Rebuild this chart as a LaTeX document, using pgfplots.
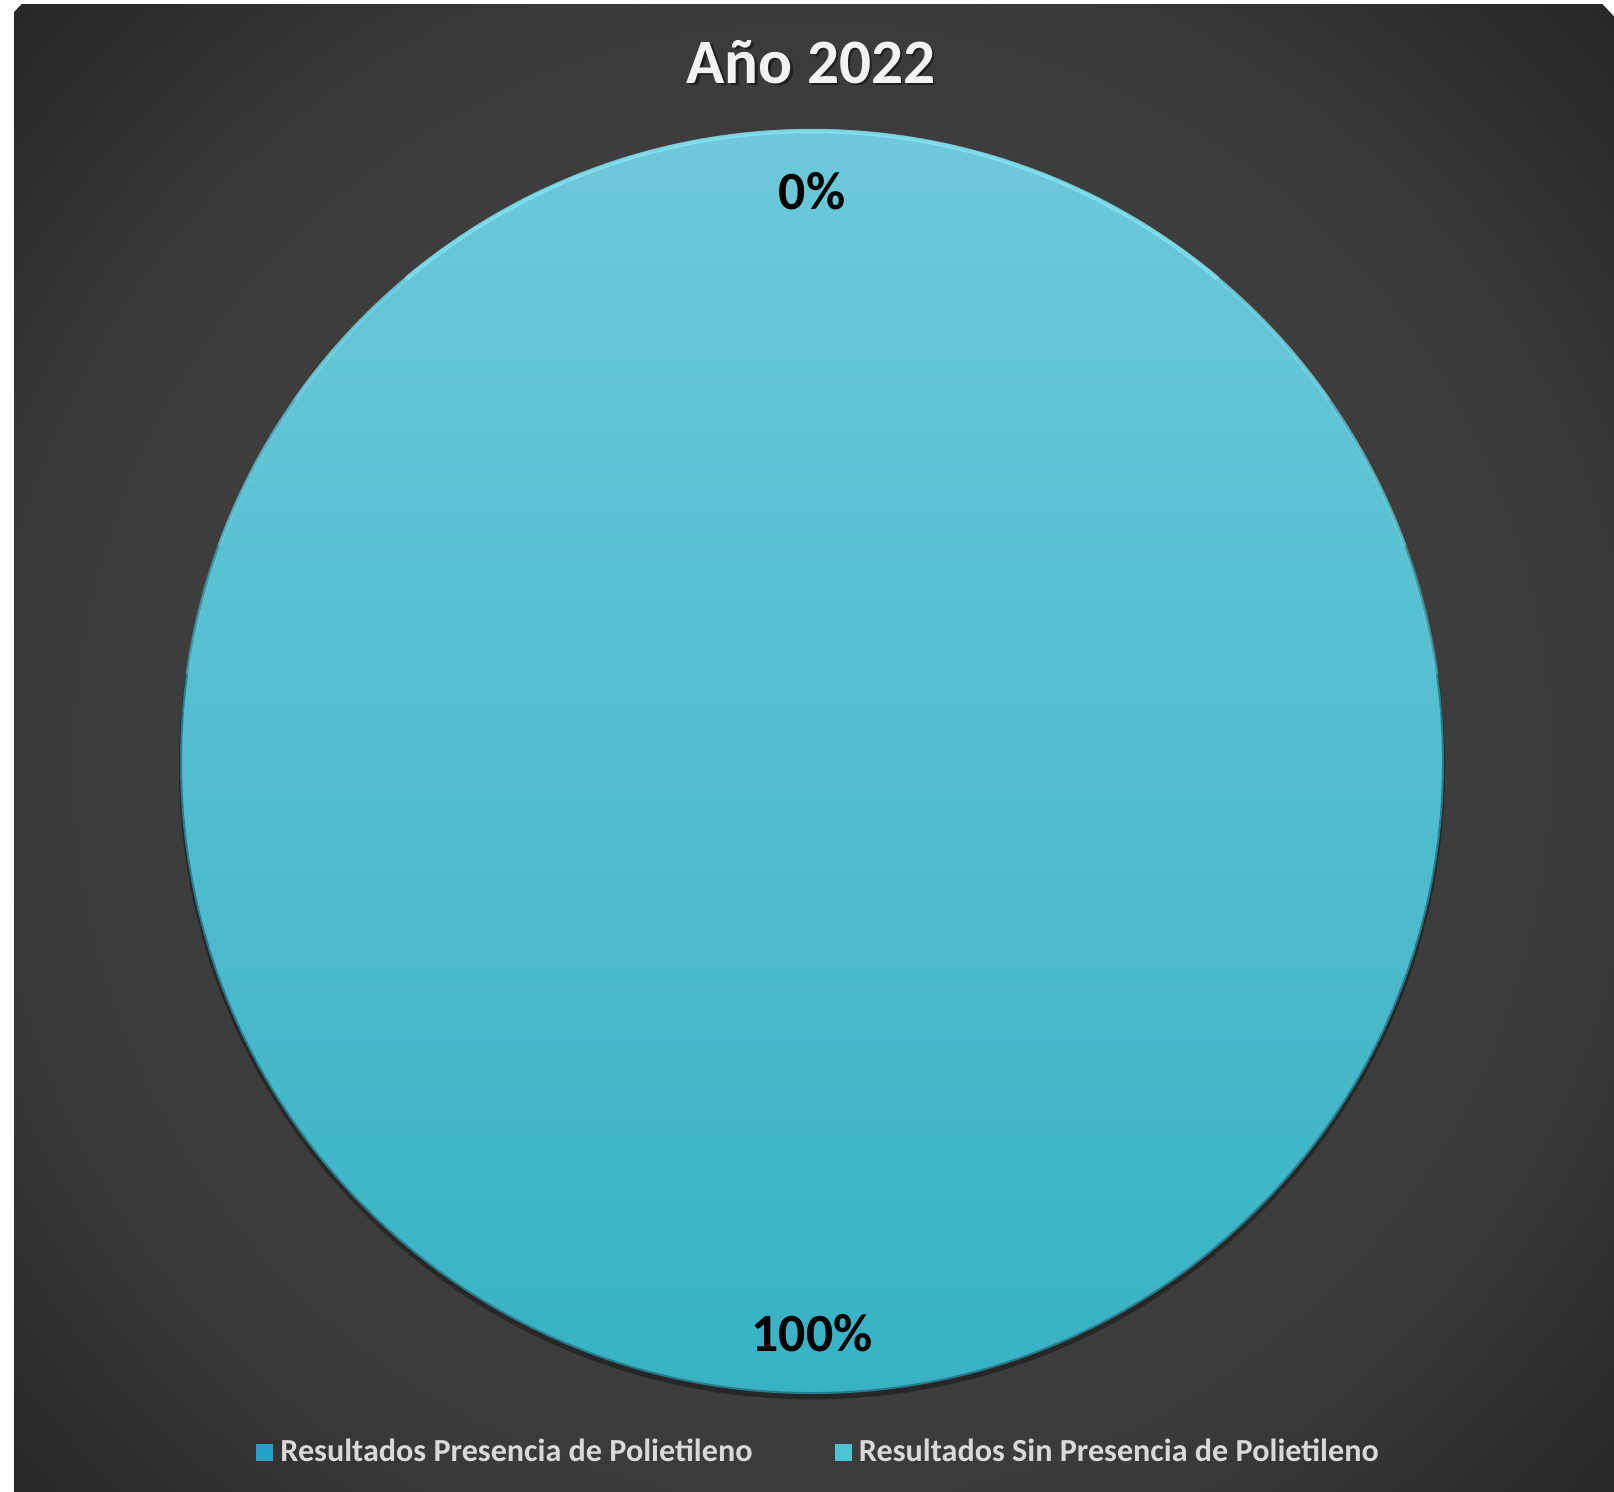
\documentclass[border=0pt]{standalone}
\usepackage{pgfplots}
\pgfplotsset{compat=1.18}
\usepackage{pgfplotstable}
\usepackage{fontspec}
\setmainfont{Carlito}
\definecolor{bg0}{RGB}{66,66,66}
\definecolor{bg1}{RGB}{63,63,63}
\definecolor{bg2}{RGB}{58,58,58}
\definecolor{bg3}{RGB}{39,39,39}
\definecolor{pietop}{RGB}{108,201,217}
\definecolor{piemid}{RGB}{76,194,212}
\definecolor{piebot}{RGB}{56,178,197}
\definecolor{sliceA}{RGB}{38,162,202}
\definecolor{sliceAtop}{RGB}{60,180,215}
\definecolor{sliceB}{RGB}{78,195,212}
\definecolor{rimlight}{RGB}{140,235,250}
\definecolor{rimdark}{RGB}{40,125,140}
\definecolor{legtext}{RGB}{217,217,217}
\definecolor{titletext}{RGB}{242,242,242}
\pgfdeclareradialshading{bgshade}{\pgfpoint{0bp}{0bp}}{color(0bp)=(bg0); color(12bp)=(bg1); color(17.5bp)=(bg2); color(25bp)=(bg3); color(50bp)=(bg3)}

\pgfplotstableread{
idx value
0 0
1 100
}\piedata

\begin{document}
\begin{tikzpicture}
\pgfplotstablegetelem{0}{value}\of\piedata \edef\va{\pgfplotsretval}
\pgfplotstablegetelem{1}{value}\of\piedata \edef\vb{\pgfplotsretval}
\pgfmathsetmacro\aA{90}
\pgfmathsetmacro\aB{90-3.6*\va}
\pgfmathsetmacro\aC{\aB-3.6*\vb}
\pgfmathsetmacro\mA{(\aA+\aB)/2}
\pgfmathsetmacro\mB{(\aB+\aC)/2}
\useasboundingbox (0,0) rectangle (16.14,14.91);
\fill[white] (0,0) rectangle (16.14,14.91);
\begin{scope}
\clip (0.14,0) rectangle (16.14,14.86);
\shade[shading=bgshade] (8.12,7.29) circle[radius=10.95cm];
\end{scope}
\node[text=black, opacity=0.45, font=\bfseries\fontsize{18}{22}\selectfont] at (8.135,14.265) {Año 2022};
\node[text=titletext, font=\bfseries\fontsize{18}{22}\selectfont] at (8.11,14.29) {Año 2022};
\begin{axis}[at={(8.12cm,7.29cm)}, anchor=center, x=6.31cm, y=6.31cm,
  xmin=-1, xmax=1, ymin=-1, ymax=1, hide axis, clip=false,
  legend columns=2, legend cell align=left,
  legend style={at={(0.507,-0.047)}, anchor=center, draw=none, fill=none,
    text=legtext, font=\bfseries\fontsize{9.15}{11}\selectfont,
    /tikz/every even column/.append style={column sep=0.75cm}}]
\addlegendimage{legend image code/.code={\fill[sliceA] (0cm,-0.08cm) rectangle (0.16cm,0.08cm);}}
\addlegendentry{Resultados Presencia de Polietileno}
\addlegendimage{legend image code/.code={\fill[sliceB] (0cm,-0.08cm) rectangle (0.16cm,0.08cm);}}
\addlegendentry{Resultados Sin Presencia de Polietileno}
% shadow
\fill[black, opacity=0.35] (axis cs:0,-0.007) circle[radius=6.33cm];
% slice B
\pgfmathparse{\vb>0}
\ifnum\pgfmathresult=1
\shade[top color=pietop, middle color=piemid, bottom color=piebot] (axis cs:0,0) -- (axis cs:{cos(\aB)},{sin(\aB)}) arc[start angle=\aB, end angle=\aC, radius=6.31cm] -- cycle;
\fi
% slice A
\pgfmathparse{\va>0}
\ifnum\pgfmathresult=1
\shade[top color=sliceAtop, bottom color=sliceA] (axis cs:0,0) -- (axis cs:{cos(\aA)},{sin(\aA)}) arc[start angle=\aA, end angle=\aB, radius=6.31cm] -- cycle;
\fi
% rim
\draw[rimdark, line width=0.02cm] (axis cs:0,0) circle[radius=6.31cm];
\draw[rimlight, line width=0.035cm, opacity=0.25] (axis cs:{cos(172)},{sin(172)}) arc[start angle=172, end angle=8, radius=6.31cm];
\draw[rimlight, line width=0.035cm, opacity=0.3] (axis cs:{cos(160)},{sin(160)}) arc[start angle=160, end angle=20, radius=6.31cm];
\draw[rimlight, line width=0.04cm, opacity=0.35] (axis cs:{cos(145)},{sin(145)}) arc[start angle=145, end angle=35, radius=6.31cm];
\draw[rimlight, line width=0.045cm, opacity=0.5] (axis cs:{cos(130)},{sin(130)}) arc[start angle=130, end angle=50, radius=6.31cm];
% labels
\node[font=\bfseries\fontsize{15.3}{18}\selectfont, text=black] at (axis cs:{0.905*cos(\mA)},{0.905*sin(\mA)}) {\va\%};
\node[font=\bfseries\fontsize{15.3}{18}\selectfont, text=black] at (axis cs:{0.905*cos(\mB)},{0.905*sin(\mB)}) {\vb\%};
\end{axis}
\end{tikzpicture}
\end{document}
